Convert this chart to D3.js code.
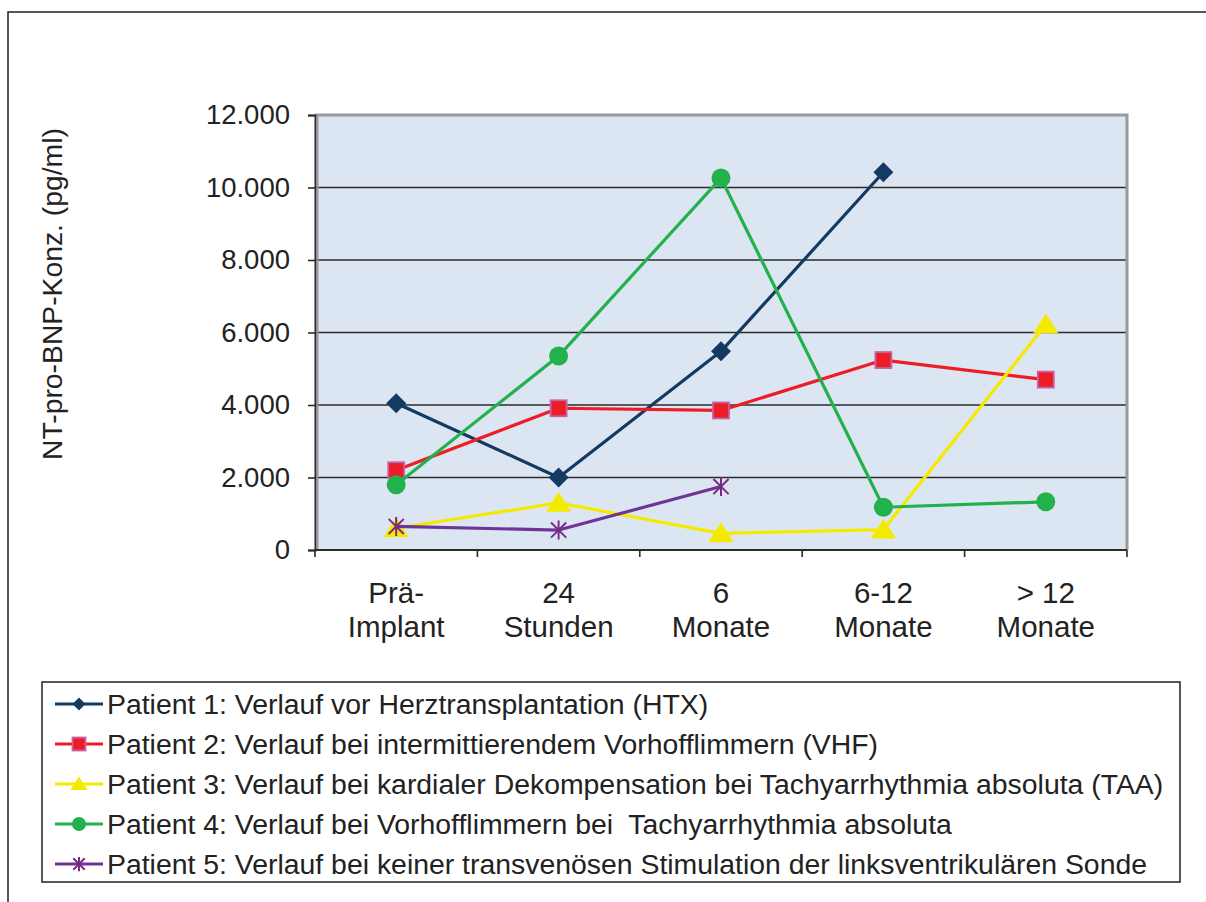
<!DOCTYPE html>
<html>
<head>
<meta charset="utf-8">
<script src="https://cdn.jsdelivr.net/npm/d3@7"></script>
<style>
html,body{margin:0;padding:0;background:#fff;}
svg{display:block;}
text{font-family:"Liberation Sans",Arial,Helvetica,sans-serif;fill:#222;white-space:pre;}
</style>
</head>
<body>
<script>
// ---- data ----
const categories = ["Prä-\nImplant", "24\nStunden", "6\nMonate", "6-12\nMonate", "> 12\nMonate"];
const yTicks = [0, 2000, 4000, 6000, 8000, 10000, 12000];
const yTitle = "NT-pro-BNP-Konz. (pg/ml)";
const p1 = [4050, 2000, 5480, 10420, null];
const p2 = [2200, 3910, 3850, 5240, 4700];
const p3 = [600, 1300, 460, 560, 6220];
const p4 = [1800, 5350, 10260, 1180, 1330];
const p5 = [650, 550, 1750, null, null];
const seriesNames = [
  "Patient 1: Verlauf vor Herztransplantation (HTX)",
  "Patient 2: Verlauf bei intermittierendem Vorhofflimmern (VHF)",
  "Patient 3: Verlauf bei kardialer Dekompensation bei Tachyarrhythmia absoluta (TAA)",
  "Patient 4: Verlauf bei Vorhofflimmern bei  Tachyarrhythmia absoluta",
  "Patient 5: Verlauf bei keiner transvenösen Stimulation der linksventrikulären Sonde"
];
const seriesValues = [p1, p2, p3, p4, p5];
const lineColors = ["#133a63", "#ee1d25", "#f4ea00", "#22b14c", "#6f3596"];
const markerTypes = ["diamond", "square", "triangle", "circle", "star"];

// ---- layout ----
const W = 1206, H = 902;
const M = {left: 315, right: 1127, top: 115, bottom: 550};

const svg = d3.select("body").append("svg").attr("width", W).attr("height", H);

// outer frame
svg.append("rect").attr("x", 8).attr("y", 12).attr("width", W + 20).attr("height", H + 20)
  .attr("fill", "#fff").attr("stroke", "#222").attr("stroke-width", 1.5);

const x = d3.scaleBand().domain(categories).range([M.left, M.right]).paddingInner(0).paddingOuter(0);
const y = d3.scaleLinear().domain([0, 12000]).range([M.bottom, M.top]);
const loc = d3.formatLocale({decimal: ",", thousands: ".", grouping: [3], currency: ["", "€"]});
const fmt = loc.format(",");

// plot background
svg.append("rect").attr("x", M.left).attr("y", M.top)
  .attr("width", M.right - M.left).attr("height", M.bottom - M.top)
  .attr("fill", "#dce6f2");

// gridlines
svg.append("g").selectAll("line").data(yTicks.filter(d => d > 0 && d < 12000)).join("line")
  .attr("x1", M.left).attr("x2", M.right)
  .attr("y1", d => y(d)).attr("y2", d => y(d))
  .attr("stroke", "#2b2b2b").attr("stroke-width", 1.6);

// top and right border (gray)
svg.append("path")
  .attr("d", `M${M.left},${M.top}H${M.right}V${M.bottom}`)
  .attr("fill", "none").attr("stroke", "#9a9a9e").attr("stroke-width", 3);

// y axis
const yAxis = d3.axisLeft(y).tickValues(yTicks).tickFormat(d => fmt(d)).tickSize(7).tickPadding(18);
const gy = svg.append("g").attr("transform", `translate(${M.left},0)`).call(yAxis);
gy.select(".domain").attr("stroke", "#2b2b2b").attr("stroke-width", 2);
gy.selectAll(".tick line").attr("stroke", "#2b2b2b").attr("stroke-width", 1.6);
gy.selectAll(".tick text").attr("font-size", 27.5).attr("fill", "#222")
  .attr("font-family", '"Liberation Sans",Arial,sans-serif');
// gray shadow of left axis
svg.append("line").attr("x1", M.left + 2.5).attr("x2", M.left + 2.5).attr("y1", M.top).attr("y2", M.bottom)
  .attr("stroke", "#9a9a9e").attr("stroke-width", 2);

// x axis
const gx = svg.append("g").attr("transform", `translate(0,${M.bottom})`);
gx.append("line").attr("x1", M.left).attr("x2", M.right).attr("y1", 0).attr("y2", 0)
  .attr("stroke", "#2b2b2b").attr("stroke-width", 2);
const bounds = categories.map(c => x(c)).concat([M.right]);
gx.selectAll("line.tk").data(bounds).join("line").attr("class", "tk")
  .attr("x1", d => d).attr("x2", d => d).attr("y1", 0).attr("y2", 7)
  .attr("stroke", "#2b2b2b").attr("stroke-width", 1.6);
const xl = svg.append("g").selectAll("text").data(categories).join("text")
  .attr("text-anchor", "middle").attr("font-size", 29.5);
xl.each(function(d) {
  const lines = d.split("\n");
  const t = d3.select(this);
  lines.forEach((ln, i) => {
    t.append("tspan").attr("x", x(d) + x.bandwidth() / 2).attr("y", 603 + i * 34).text(ln);
  });
});

// y title
svg.append("text").attr("transform", `translate(62,294) rotate(-90)`)
  .attr("text-anchor", "middle").attr("font-size", 28.3).text(yTitle);

// markers
function drawMarker(g, type, cx, cy, s, color) {
  if (type === "diamond") {
    g.append("path").attr("d", `M${cx},${cy - s}L${cx + s},${cy}L${cx},${cy + s}L${cx - s},${cy}Z`)
      .attr("fill", color);
  } else if (type === "square") {
    g.append("rect").attr("x", cx - s).attr("y", cy - s).attr("width", 2 * s).attr("height", 2 * s)
      .attr("fill", "#ee1d25").attr("stroke", "#c563a8").attr("stroke-width", 1.8);
  } else if (type === "triangle") {
    g.append("path").attr("d", `M${cx},${cy - s}L${cx + s * 1.15},${cy + s * 0.8}L${cx - s * 1.15},${cy + s * 0.8}Z`)
      .attr("fill", color);
  } else if (type === "circle") {
    g.append("circle").attr("cx", cx).attr("cy", cy).attr("r", s).attr("fill", color);
  } else if (type === "star") {
    const c = "#7b2a83";
    const a = s * 0.95;
    g.append("path").attr("d",
      `M${cx - a},${cy - a}L${cx + a},${cy + a}M${cx - a},${cy + a}L${cx + a},${cy - a}M${cx},${cy - a * 1.25}L${cx},${cy + a * 1.25}`)
      .attr("stroke", c).attr("stroke-width", 2).attr("fill", "none");
  }
}
const markerSizes = [10, 8, 11, 9.5, 8];

const line = d3.line().defined(d => d.v != null).x(d => x(d.c) + x.bandwidth() / 2).y(d => y(d.v));
const plotG = svg.append("g");
seriesValues.forEach((vals, i) => {
  const pts = vals.map((v, j) => ({c: categories[j], v}));
  const g = plotG.append("g");
  g.append("path").datum(pts).attr("d", line).attr("fill", "none")
    .attr("stroke", lineColors[i]).attr("stroke-width", 3.2).attr("stroke-linejoin", "round");
  pts.filter(p => p.v != null).forEach(p => {
    drawMarker(g, markerTypes[i], x(p.c) + x.bandwidth() / 2, y(p.v), markerSizes[i], lineColors[i]);
  });
});

// legend
const L = {x: 42, y: 682, w: 1138, h: 200};
svg.append("rect").attr("x", L.x).attr("y", L.y).attr("width", L.w).attr("height", L.h)
  .attr("fill", "#fff").attr("stroke", "#222").attr("stroke-width", 1.5);
const legendMarkerSizes = [6.5, 6.5, 7.5, 7, 6];
seriesNames.forEach((name, i) => {
  const cy = 704 + i * 40;
  const g = svg.append("g");
  g.append("line").attr("x1", 55).attr("x2", 103).attr("y1", cy).attr("y2", cy)
    .attr("stroke", lineColors[i]).attr("stroke-width", 3);
  drawMarker(g, markerTypes[i], 79, cy, legendMarkerSizes[i], lineColors[i]);
  g.append("text").attr("x", 107).attr("y", cy + 10).attr("font-size", 28.4).text(name);
});
</script>
</body>
</html>
